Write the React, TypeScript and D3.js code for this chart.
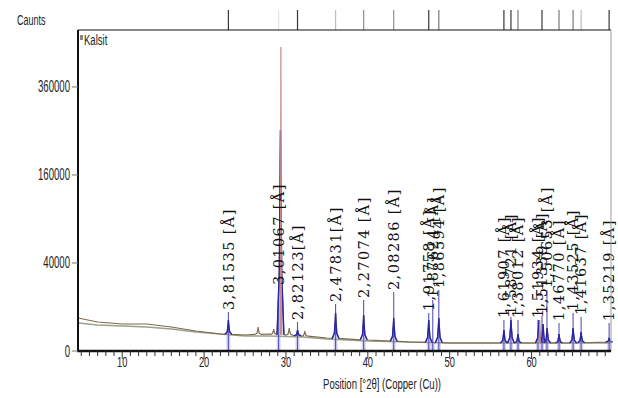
import React from "react";
import * as d3 from "d3";

// ---------- data ----------
const xTickValues = [10, 20, 30, 40, 50, 60];
const yTickValues = [0, 40000, 160000, 360000];
const yTickLabels = ["0", "40000", "160000", "360000"];

// baseline of the measured pattern (°2θ, counts)
const baseAngles = [4.6, 7, 10, 13, 16, 19, 22, 25, 28, 32, 35, 40, 45, 50, 55, 60, 65, 69.7];
const obsBaseCounts = [5620, 4340, 3760, 3760, 2980, 2070, 1490, 1320, 1490, 1160, 870, 625, 420, 330, 330, 330, 330, 420];
const bgBaseCounts = [4050, 3490, 3230, 2975, 2500, 1864, 1492, 1162, 1162, 1012, 744, 516, 418, 330, 330, 330, 330, 330];

// observed peaks
const obsPeakAngles = [22.97, 26.6, 28.5, 29.33, 30.4, 31.42, 32.3, 36.06, 39.49, 43.16, 47.44, 48.67, 56.62, 57.48, 58.34, 60.9, 61.4, 61.9, 63.35, 65.07, 66.05, 69.47];
const obsPeakCounts = [4960, 2975, 2500, 252000, 2730, 2277, 2065, 7455, 6690, 5620, 4960, 5620, 2277, 4960, 1492, 4960, 3760, 2730, 1492, 2730, 1864, 873];

// calculated (fitted) peaks
const calcPeakAngles = [22.97, 29.33, 31.42, 36.06, 39.49, 43.16, 47.44, 48.67, 56.62, 57.48, 58.34, 60.9, 61.4, 61.9, 63.35, 65.07, 66.05, 69.47];
const calcPeakCounts = [4960, 252000, 2277, 7455, 6690, 5620, 4960, 5620, 2277, 4960, 1492, 4960, 3760, 2730, 1492, 2730, 1864, 873];

// difference / second trace
const redPeakAngles = [29.38, 61.0];
const redPeakCounts = [477000, 4960];

// reference pattern (Kalsit)
const refLabels = [
  "3,81535 [Å]", "3,01067 [Å]", "2,82123[Å]", "2,47831[Å]", "2,27074 [Å]", "2,08286 [Å]",
  "1,91758 [Å]", "1,87624 [Å]", "1,86594 [Å]", "1,61907 [Å]", "1,58721 [Å]", "1,38012 [Å]",
  "1,51934 [Å]", "1,51339 [Å]", "1,50653 [Å]", "1,46770 [Å]", "1,43525 [Å]", "1,41637 [Å]", "1,35219 [Å]",
];
const refAngles = [22.97, 29.1, 31.41, 36.06, 39.49, 43.16, 47.44, 47.93, 48.67, 56.62, 57.48, 58.34, 60.78, 61.27, 61.88, 63.35, 65.07, 66.05, 69.47];
const refCounts = [7850, 21150, 4340, 11400, 13430, 17970, 7455, 13430, 19210, 4960, 5970, 4960, 4960, 6325, 19210, 4050, 7455, 5970, 4050];
const refBarShade = [0.9, 0.12, 0.9, 0.3, 0.5, 0.5, 0.9, 0, 0.6, 0.9, 0.9, 0.6, 0, 0.9, 0, 0.6, 0.6, 0.3, 0.9];

const phaseName = "Kalsit";
const yTitle = "Caunts";
const xTitle = "Position [°2θ] (Copper (Cu))";

// ---------- layout ----------
const W = 618, H = 398;
const L = 78, R = 611, T = 30, B = 351;
const x = d3.scaleLinear().domain([4.6, 69.7]).range([L, R]);
const y = d3.scaleSqrt().domain([0, 532000]).range([B, T]);
const baseAt = (bc: number[]) => d3.scaleLinear().domain(baseAngles).range(bc).clamp(true);

const HW = 0.42;
function peakPts(a: number, t: number, b: number): [number, number][] {
  return [
    [a - HW, b],
    [a - HW * 0.35, b + (t - b) * 0.12],
    [a - HW * 0.1, b + (t - b) * 0.6],
    [a, t],
    [a + HW * 0.1, b + (t - b) * 0.6],
    [a + HW * 0.35, b + (t - b) * 0.12],
    [a + HW, b],
  ];
}

function profile(bc: number[], pa: number[], pc: number[]): [number, number][] {
  const base = baseAt(bc);
  const pts: [number, number][] = [];
  baseAngles.forEach((a, i) => {
    if (!pa.some((p) => Math.abs(p - a) <= HW)) pts.push([a, bc[i]]);
  });
  pa.forEach((a, i) => pts.push(...peakPts(a, pc[i], base(a))));
  pts.sort((p, q) => p[0] - q[0]);
  return pts;
}

const line = d3
  .line<[number, number]>()
  .x((d) => x(d[0]))
  .y((d) => y(d[1]));

function CText(props: {
  x: number; y: number; sx: number; size: number; anchor?: string; fill?: string; children: React.ReactNode;
}) {
  return (
    <text
      transform={`translate(${props.x},${props.y}) scale(${props.sx},1)`}
      fontSize={props.size}
      textAnchor={props.anchor || "start"}
      fontFamily="'Liberation Sans', Arial, sans-serif"
      fill={props.fill || "#222"}
    >
      {props.children}
    </text>
  );
}

export default function App() {
  const obsBase = baseAt(obsBaseCounts);
  const obsPath = line(profile(obsBaseCounts, obsPeakAngles, obsPeakCounts)) || "";
  const bgPath = line(baseAngles.map((a, i) => [a, bgBaseCounts[i]] as [number, number])) || "";
  const calcPaths = calcPeakAngles.map((a, i) => line(peakPts(a, calcPeakCounts[i], obsBase(a))) || "");
  const redPaths = redPeakAngles.map((a, i) => {
    const b = obsBase(a);
    return line([[a - 0.06, b], [a, redPeakCounts[i]], [a + 0.06, b]]) || "";
  });
  const minorTicks = d3.range(5, 70, 1);

  return (
    <svg width={W} height={H} style={{ position: "absolute", left: 0, top: 0, background: "#fff" }}>
      <rect x={0} y={0} width={W} height={H} fill="#fff" />

      {/* reference bars above the plot */}
      {refAngles.map((a, i) =>
        refBarShade[i] > 0 ? (
          <line key={"rb" + i} x1={x(a)} x2={x(a)} y1={10} y2={T} stroke="#222" strokeOpacity={refBarShade[i]} strokeWidth={1.2} />
        ) : null
      )}

      {/* lavender shading under peaks */}
      {refAngles.map((a, i) => (
        <rect key={"sh" + i} x={x(a) - 2} y={y(obsBase(a))} width={4} height={B - y(obsBase(a))} fill="#c9c2ea" opacity={0.75} />
      ))}

      {/* background and observed */}
      <path d={bgPath} fill="none" stroke="#98a28c" strokeWidth={1.3} />
      <path d={obsPath} fill="none" stroke="#7e6a4c" strokeWidth={1.2} />

      {/* reference sticks */}
      {refAngles.map((a, i) => (
        <line key={"st" + i} x1={x(a)} x2={x(a)} y1={B} y2={y(refCounts[i])} stroke="#5656bc" strokeWidth={1.1} />
      ))}

      {/* calculated peaks */}
      {calcPaths.map((d, i) => (
        <path key={"cp" + i} d={d} fill="#7a6fd0" fillOpacity={0.35} stroke="#2a26a8" strokeWidth={1.4} />
      ))}
      {redPaths.map((d, i) => (
        <path key={"rp" + i} d={d} fill="none" stroke="#c88a8a" strokeWidth={1.2} />
      ))}

      {/* peak labels */}
      {refLabels.map((t, i) => (
        <text
          key={"lb" + i}
          transform={`translate(${x(refAngles[i])},${y(refCounts[i]) - 2}) rotate(-90)`}
          dy="0.36em"
          fontSize={14.5}
          letterSpacing={1.4}
          fontFamily="'DejaVu Serif', serif"
          fill="#111"
        >
          {t}
        </text>
      ))}

      {/* frame */}
      <line x1={L} x2={R} y1={T} y2={T} stroke="#111" strokeWidth={1.2} />
      <line x1={R} x2={R} y1={T} y2={B} stroke="#999" strokeWidth={1} />
      <line x1={L} x2={L} y1={T} y2={B + 1} stroke="#111" strokeWidth={2} />
      <line x1={L - 1} x2={R} y1={B} y2={B} stroke="#111" strokeWidth={2.5} />

      {/* x ticks */}
      {minorTicks.map((v) => (
        <line key={"mt" + v} x1={x(v)} x2={x(v)} y1={B} y2={B + (v % 10 === 0 ? 8 : 5)} stroke="#333" strokeWidth={1} />
      ))}
      {xTickValues.map((v) => (
        <CText key={"xl" + v} x={x(v)} y={367} sx={0.62} size={15} anchor="middle">
          {String(v)}
        </CText>
      ))}
      <CText x={382} y={389} sx={0.66} size={14.5} anchor="middle">
        {xTitle}
      </CText>

      {/* y ticks */}
      {yTickValues.map((v, i) => (
        <g key={"yt" + v}>
          <line x1={L - 6} x2={L} y1={y(v)} y2={y(v)} stroke="#777" strokeWidth={1} />
          <CText x={70} y={y(v) + 5.5} sx={0.6} size={16} anchor="end">
            {yTickLabels[i]}
          </CText>
        </g>
      ))}
      <CText x={17} y={25} sx={0.58} size={15.5}>
        {yTitle}
      </CText>

      {/* legend */}
      <rect x={80} y={35} width={3} height={5} fill="#888" />
      <CText x={84} y={45} sx={0.66} size={14.5}>
        {phaseName}
      </CText>
    </svg>
  );
}
